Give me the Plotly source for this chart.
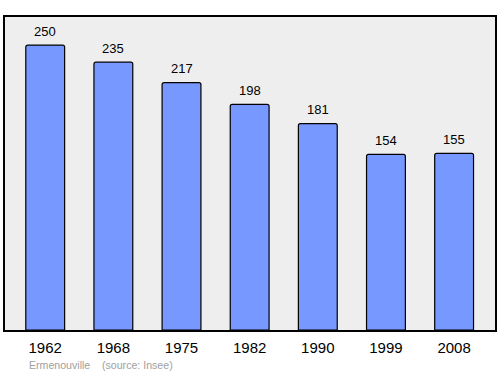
import plotly.graph_objects as go

years = ["1962", "1968", "1975", "1982", "1990", "1999", "2008"]
population = [250, 235, 217, 198, 181, 154, 155]

fig = go.Figure()
fig.add_trace(go.Bar(
    x=years, y=population,
    width=0.57,
    marker=dict(color="#7799ff", line=dict(color="#000000", width=1.2), cornerradius=2),
    hoverinfo="skip",
))
for i, v in enumerate(population):
    fig.add_annotation(x=i, y=v, text=str(v), showarrow=False, yshift=14,
                       font=dict(family="Liberation Sans, Arial, sans-serif", size=13, color="#000000"))

fig.add_annotation(xref="paper", yref="paper", x=0.044, y=-0.085, xanchor="left", yanchor="top",
                   text="Ermenouville&nbsp;&nbsp;&nbsp;&nbsp;(source: Insee)", showarrow=False,
                   font=dict(family="Liberation Sans, Arial, sans-serif", size=10.6, color="#a0a0a0"))

fig.update_layout(
    width=500, height=374,
    margin=dict(l=5, r=3, t=17, b=44),
    paper_bgcolor="#ffffff",
    plot_bgcolor="#eeeeee",
    showlegend=False,
    xaxis=dict(type="category", range=[-0.59, 6.6], showgrid=False, zeroline=False,
               showline=True, mirror=True, linecolor="#000000", linewidth=1.5,
               ticks="outside", ticklen=3, tickcolor="rgba(0,0,0,0)",
               tickfont=dict(family="Liberation Sans, Arial, sans-serif", size=15, color="#000000")),
    yaxis=dict(range=[0, 274.6], showgrid=False, zeroline=False, showticklabels=False,
               showline=True, mirror=True, linecolor="#000000", linewidth=1.5),
)
fig.write_html("out.html")
